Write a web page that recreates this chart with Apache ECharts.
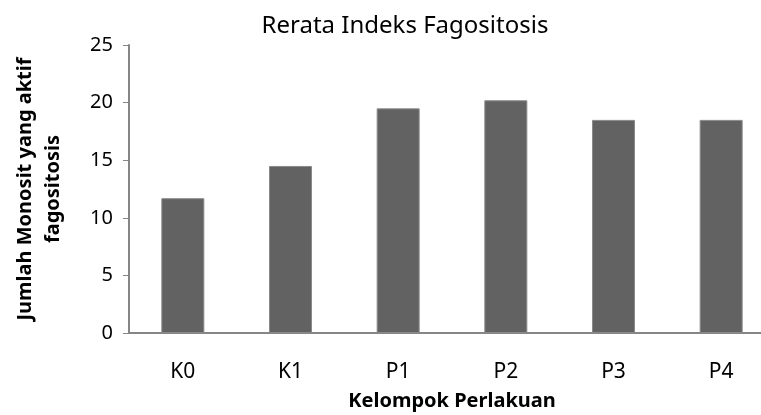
<!DOCTYPE html>
<html>
<head>
    <meta charset="utf-8">
    <title>Rerata Indeks Fagositosis</title>
    <script src="https://cdn.jsdelivr.net/npm/echarts@6/dist/echarts.min.js"></script>
    <style>
        html, body { margin: 0; padding: 0; background: #fff; }
    </style>
</head>
<body>
    <div id="main" style="width: 761px;height:415px;"></div>
    <script type="text/javascript">
        // data
        var kelompok = ['K0', 'K1', 'P1', 'P2', 'P3', 'P4'];
        var rerata = [11.7, 14.5, 19.5, 20.2, 18.5, 18.5];
        var yTicks = { min: 0, max: 25, interval: 5 };

        var myChart = echarts.init(document.getElementById('main'));
        var font = '"Noto Sans", "Open Sans", sans-serif';

        option = {
            animation: false,
            title:
            {
                text: 'Rerata Indeks Fagositosis',
                left: 400,
                top: 9,
                textAlign: 'center',
                textStyle: { fontFamily: font, fontSize: 24, fontWeight: 'normal', color: '#000' }
            },
            grid:
            {
                left: 129,
                top: 45,
                width: 646,
                height: 288,
                outerBoundsMode: 'none'
            },
            xAxis:
            {
                type: 'category',
                data: kelompok,
                name: 'Kelompok Perlakuan',
                nameLocation: 'middle',
                nameGap: 58,
                nameTextStyle: { fontFamily: font, fontSize: 20, fontWeight: 'bold', color: '#000' },
                axisLine: { lineStyle: { color: '#868686', width: 2 } },
                axisTick: { show: false },
                axisLabel: { fontFamily: font, fontSize: 21, color: '#000', margin: 29 }
            },
            yAxis:
            {
                type: 'value',
                min: yTicks.min,
                max: yTicks.max,
                interval: yTicks.interval,
                name: 'Jumlah Monosit yang aktif\nfagositosis',
                nameLocation: 'middle',
                nameGap: 62,
                nameTextStyle: { fontFamily: font, fontSize: 20, fontWeight: 'bold', color: '#000', lineHeight: 28 },
                axisLine: { show: true, lineStyle: { color: '#868686', width: 2 } },
                axisTick: { show: true, length: 6, lineStyle: { color: '#868686', width: 1 } },
                splitLine: { show: false },
                axisLabel: { fontFamily: font, fontSize: 20, color: '#000', margin: 16 }
            },
            series: [
            {
                name: 'Rerata',
                type: 'bar',
                barWidth: 43,
                itemStyle: { color: '#626262', borderColor: '#8a8a8a', borderWidth: 1 },
                data: rerata
            }
            ]
        };
        myChart.setOption(option);
    </script>
</body>
</html>
